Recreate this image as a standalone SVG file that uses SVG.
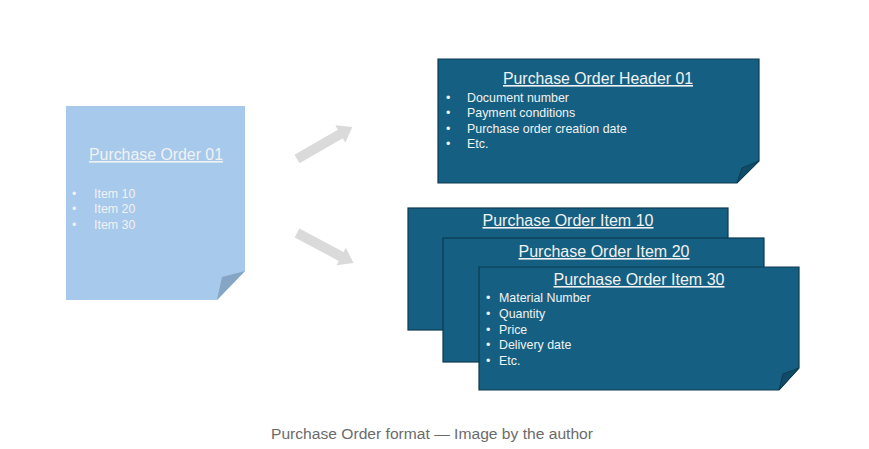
<svg xmlns="http://www.w3.org/2000/svg" width="869" height="449" viewBox="0 0 869 449">
<style>
  .t{font-family:"Liberation Sans",Arial,sans-serif;fill:#f2f2f2}
  .title{font-size:16px;text-anchor:middle;text-decoration:underline}
  .b{font-size:12.4px}
  .dark{fill:#156082;stroke:#0d3a50;stroke-width:1.2}
  .dfold{fill:#104c68;stroke:#0d3a50;stroke-width:1}
  .arrow{fill:#dadada}
  .cap{font-family:"Liberation Sans",Arial,sans-serif;font-size:15.5px;fill:#6b6b6b;text-anchor:middle}
</style>
<rect width="869" height="449" fill="#ffffff"/>

<g id="po01">
  <polygon points="66,106 245,106 245,271 217,300 66,300" fill="#a6c9ec"/>
  <polygon points="245,271 222,277 217,300" fill="#86a5c4"/>
  <text class="t title" x="156" y="160" textLength="134" lengthAdjust="spacingAndGlyphs">Purchase Order 01</text>
  <g class="t b">
    <text x="72" y="198">•</text><text x="94" y="198">Item 10</text>
    <text x="72" y="213">•</text><text x="94" y="213">Item 20</text>
    <text x="72" y="229">•</text><text x="94" y="229">Item 30</text>
  </g>
</g>

<g id="connectors">
  <polygon class="arrow" transform="translate(297,159) rotate(-30)" points="0,-5 50,-5 50,-10 64,0 50,10 50,5 0,5"/>
  <polygon class="arrow" transform="translate(297,233) rotate(28)" points="0,-5 50,-5 50,-10 64,0 50,10 50,5 0,5"/>
</g>

<g id="header01">
  <polygon class="dark" points="438,59 759,59 759,161 737,183 438,183"/>
  <polygon class="dfold" points="759,161 742,168 737,183"/>
  <text class="t title" x="598" y="84" textLength="190" lengthAdjust="spacingAndGlyphs">Purchase Order Header 01</text>
  <g class="t b">
    <text x="446" y="102">•</text><text x="467" y="102">Document number</text>
    <text x="446" y="117">•</text><text x="467" y="117">Payment conditions</text>
    <text x="446" y="133">•</text><text x="467" y="133">Purchase order creation date</text>
    <text x="446" y="148">•</text><text x="467" y="148">Etc.</text>
  </g>
</g>

<g id="item10">
  <rect class="dark" x="408" y="208" width="320" height="122"/>
  <text class="t title" x="568" y="226" textLength="171" lengthAdjust="spacingAndGlyphs">Purchase Order Item 10</text>
</g>

<g id="item20">
  <rect class="dark" x="443" y="238" width="321" height="124"/>
  <text class="t title" x="604" y="257" textLength="171" lengthAdjust="spacingAndGlyphs">Purchase Order Item 20</text>
</g>

<g id="item30">
  <polygon class="dark" points="479,267 799,267 799,368 779,390 479,390"/>
  <polygon class="dfold" points="799,368 783,374 779,390"/>
  <text class="t title" x="639" y="285" textLength="171" lengthAdjust="spacingAndGlyphs">Purchase Order Item 30</text>
  <g class="t b">
    <text x="486" y="302">•</text><text x="499" y="302">Material Number</text>
    <text x="486" y="318">•</text><text x="499" y="318">Quantity</text>
    <text x="486" y="334">•</text><text x="499" y="334">Price</text>
    <text x="486" y="349">•</text><text x="499" y="349">Delivery date</text>
    <text x="486" y="365">•</text><text x="499" y="365">Etc.</text>
  </g>
</g>

<text class="cap" x="432" y="439" textLength="322" lengthAdjust="spacingAndGlyphs">Purchase Order format — Image by the author</text>
</svg>
